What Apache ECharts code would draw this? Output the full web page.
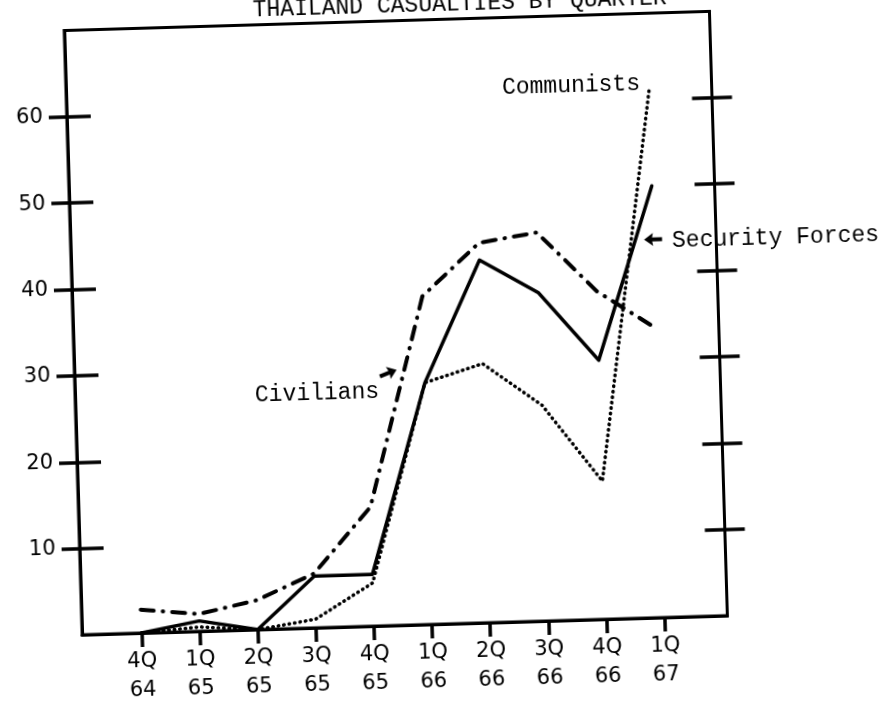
<!DOCTYPE html>
<html>
<head>
<meta charset="utf-8">
<script src="https://cdn.jsdelivr.net/npm/echarts@6/dist/echarts.min.js"></script>
<style>
  html, body { margin: 0; padding: 0; background: #fff; overflow: hidden; width: 882px; height: 709px; }
  /* the sheet sits slightly askew, so the whole drawing is turned a little */
  #chart {
    position: absolute; left: -30px; top: -30px;
    width: 942px; height: 769px;
    transform: rotate(-1.7deg);
    transform-origin: 471px 384.5px;
  }
</style>
</head>
<body>
<div id="chart"></div>
<script>
// Quarter labels along the bottom axis
const quarters = ['4Q', '1Q', '2Q', '3Q', '4Q', '1Q', '2Q', '3Q', '4Q', '1Q'];
const years    = ['64', '65', '65', '65', '65', '66', '66', '66', '66', '67'];

// Vertical axis tick values
const yTicks = [10, 20, 30, 40, 50, 60];

// Casualties per quarter
const securityForces = [0, 1.2, 0, 6, 6, 28, 42, 38, 30, 50];
const civilians      = [2.7, 2, 3.4, 6.3, 13.8, 38, 44, 45, 38, 33.5];
const communists     = [0, 0.5, 0, 1, 5, 28, 30, 25, 16, 61];

const FONT_HAND = '"DejaVu Sans", sans-serif';
const FONT_TYPE = '"Liberation Mono", "DejaVu Sans Mono", monospace';
const INK = '#000';

const tickIdx = quarters.map((_, i) => i);
const toPairs = vals => vals.map((v, i) => [i, v]);

const tickStyle = { color: INK, width: 3.5 };
const baseY = {
  type: 'value', min: 0, max: 70, interval: 10,
  splitLine: { show: false },
  axisLabel: { show: false },
  axisLine: { show: false, onZero: false },
  axisTick: { show: false }
};

const chart = echarts.init(document.getElementById('chart'), null, { renderer: 'canvas' });

chart.setOption({
  animation: false,
  backgroundColor: '#fff',
  grid: {
    left: 104, top: 49.5, right: 192.5, bottom: 115,
    show: true, borderColor: INK, borderWidth: 3,
    containLabel: false, outerBoundsMode: 'none'
  },
  xAxis: {
    type: 'value', min: -1.02, max: 10.08,
    splitLine: { show: false },
    axisLine: { show: true, onZero: false, lineStyle: { color: INK, width: 3 } },
    axisTick: { show: true, customValues: tickIdx, length: 14, lineStyle: tickStyle },
    axisLabel: {
      show: true, customValues: tickIdx,
      formatter: v => quarters[v] + '\n' + years[v],
      margin: 14, fontSize: 21, lineHeight: 29, color: INK, fontFamily: FONT_HAND
    }
  },
  yAxis: [
    Object.assign({}, baseY, {
      position: 'left',
      axisLine: { show: true, onZero: false, lineStyle: { color: INK, width: 3 } },
      axisTick: { show: true, customValues: yTicks, length: 18, lineStyle: tickStyle },
      axisLabel: { show: true, customValues: yTicks, margin: 24, fontSize: 21, color: INK, fontFamily: FONT_HAND }
    }),
    Object.assign({}, baseY, {
      position: 'left',
      axisTick: { show: true, inside: true, customValues: yTicks, length: 24, lineStyle: tickStyle }
    }),
    Object.assign({}, baseY, {
      position: 'right',
      axisLine: { show: true, onZero: false, lineStyle: { color: INK, width: 3 } },
      axisTick: { show: true, customValues: yTicks, length: 20, lineStyle: tickStyle }
    }),
    Object.assign({}, baseY, {
      position: 'right',
      axisTick: { show: true, inside: true, customValues: yTicks, length: 20, lineStyle: tickStyle }
    })
  ],
  series: [
    {
      name: 'Civilians', type: 'line', data: toPairs(civilians),
      symbol: 'none', clip: false,
      lineStyle: { color: INK, width: 4, type: [13, 9, 0.5, 9], cap: 'round', join: 'round' }
    },
    {
      name: 'Communists', type: 'line', data: toPairs(communists),
      symbol: 'none', clip: false,
      lineStyle: { color: INK, width: 3.5, type: [0.5, 5], cap: 'round', join: 'round' }
    },
    {
      name: 'Security Forces', type: 'line', data: toPairs(securityForces),
      symbol: 'none', clip: false, z: 3,
      lineStyle: { color: INK, width: 3.5, type: 'solid', cap: 'round', join: 'round' }
    }
  ]
});

// Annotations are anchored in data space, then placed in pixels
const px = (x, y) => chart.convertToPixel({ gridIndex: 0 }, [x, y]);

function typeText(text, at, align, vAlign) {
  return {
    type: 'text', x: at[0], y: at[1], z: 10,
    style: {
      text: text, font: '23px ' + FONT_TYPE, fill: INK,
      align: align, verticalAlign: vAlign,
      textAlign: align, textVerticalAlign: vAlign
    }
  };
}

function arrowHead(tip, angle) {
  // arrow pointing left from its tip, turned by angle
  const pts = [[0, 0], [9, -6.5], [8, -2], [18, -2], [18, 2], [8, 2], [9, 6.5]];
  return {
    type: 'polygon', x: tip[0], y: tip[1], rotation: angle, z: 10,
    shape: { points: pts },
    style: { fill: INK }
  };
}

const commLabel = px(8.85, 61.8);
const secLabel = px(9.32, 43.5);
const secArrow = px(8.84, 43.8);
const civLabel = px(3.14, 27.1);
const civArrow = px(4.52, 29.6);

chart.setOption({
  graphic: [
    typeText('THAILAND CASUALTIES BY QUARTER', [293, 46], 'left', 'bottom'),
    typeText('Communists', commLabel, 'right', 'middle'),
    typeText('Security Forces', secLabel, 'left', 'middle'),
    arrowHead(secArrow, 0),
    typeText('Civilians', civLabel, 'center', 'middle'),
    arrowHead(civArrow, Math.PI + 0.35)
  ]
});
</script>
</body>
</html>
